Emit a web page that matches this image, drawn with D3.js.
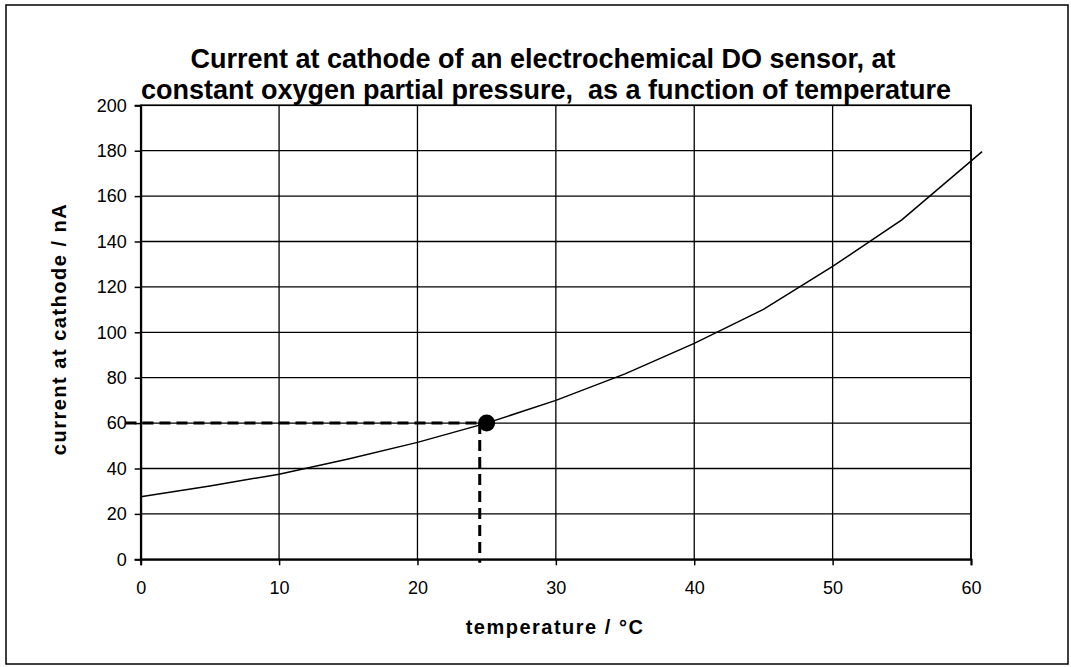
<!DOCTYPE html>
<html>
<head>
<meta charset="utf-8">
<script src="https://cdn.jsdelivr.net/npm/d3@7"></script>
<style>
  body { margin: 0; background: #fff; }
  text { font-family: "Liberation Sans", Arial, sans-serif; fill: #000; }
</style>
</head>
<body>
<div id="chart"></div>
<script>
// Data
const temperature = [0, 5, 10, 15, 20, 25, 30, 35, 40, 45, 50, 55, 60.8];
const current = [27.6, 32.3, 37.5, 44.2, 51.5, 60, 70, 81.7, 95.1, 110.1, 129, 149.5, 179.6];
const xTicks = [0, 10, 20, 30, 40, 50, 60];
const yTicks = [0, 20, 40, 60, 80, 100, 120, 140, 160, 180, 200];
const titleLines = ["Current at cathode of an electrochemical DO sensor, at",
                    "constant oxygen partial pressure,  as a function of temperature"];
// reference point and dashed guides (data units)
const refPoint = [25, 60];
const hGuide = [[-1.1, 60], [25, 60]];
const vGuide = [[24.5, 60], [24.5, -1.5]];

const W = 1071, H = 667;
const plot = { left: 140.7, right: 971, top: 105.3, bottom: 559.3 };
const titleX = [543, 546];

const svg = d3.select("#chart").append("svg")
    .attr("width", W)
    .attr("height", H);

// outer frame
svg.append("rect")
    .attr("x", 6).attr("y", 5)
    .attr("width", 1062).attr("height", 659)
    .attr("fill", "#fff")
    .attr("stroke", "#000")
    .attr("stroke-width", 1.5);

const x = d3.scaleLinear().domain([0, 60]).range([plot.left, plot.right]);
const y = d3.scaleLinear().domain([0, 200]).range([plot.bottom, plot.top]);

// gridlines
svg.append("g")
    .selectAll("line")
    .data(xTicks.slice(1))
    .join("line")
    .attr("x1", d => x(d)).attr("x2", d => x(d))
    .attr("y1", plot.top).attr("y2", plot.bottom)
    .attr("stroke", "#000").attr("stroke-width", 1.3);

svg.append("g")
    .selectAll("line")
    .data(yTicks.slice(1))
    .join("line")
    .attr("x1", plot.left).attr("x2", plot.right)
    .attr("y1", d => y(d)).attr("y2", d => y(d))
    .attr("stroke", "#000").attr("stroke-width", 1.3);

// plot border
svg.append("rect")
    .attr("x", plot.left).attr("y", plot.top)
    .attr("width", plot.right - plot.left)
    .attr("height", plot.bottom - plot.top)
    .attr("fill", "none")
    .attr("stroke", "#000")
    .attr("stroke-width", 1.6);

// axes
const xAxis = svg.append("g")
    .attr("transform", `translate(0,${plot.bottom})`)
    .call(d3.axisBottom(x).tickValues(xTicks).tickSize(6).tickPadding(16));
const yAxis = svg.append("g")
    .attr("transform", `translate(${plot.left},0)`)
    .call(d3.axisLeft(y).tickValues(yTicks).tickSize(6).tickPadding(8));

[xAxis, yAxis].forEach(a => {
  a.select(".domain").attr("stroke", "#000").attr("stroke-width", 2);
  a.selectAll(".tick line").attr("stroke", "#000").attr("stroke-width", 1.5);
  a.selectAll(".tick text")
    .style("font-family", "'Liberation Sans', Arial, sans-serif")
    .style("font-size", "18px")
    .attr("fill", "#000");
});

// curve
const line = d3.line()
    .x((d, i) => x(temperature[i]))
    .y(d => y(d));

svg.append("path")
    .datum(current)
    .attr("d", line)
    .attr("fill", "none")
    .attr("stroke", "#000")
    .attr("stroke-width", 1.5);

// dashed guides
const guide = d3.line().x(d => x(d[0])).y(d => y(d[1]));
[hGuide, vGuide].forEach(g => {
  svg.append("path")
    .attr("d", guide(g))
    .attr("fill", "none")
    .attr("stroke", "#000")
    .attr("stroke-width", 3)
    .attr("stroke-dasharray", "11,6");
});

// reference point
svg.append("circle")
    .attr("cx", x(refPoint[0]))
    .attr("cy", y(refPoint[1]))
    .attr("r", 8.5)
    .attr("fill", "#000");

// title
svg.append("g")
    .selectAll("text")
    .data(titleLines)
    .join("text")
    .attr("x", (d, i) => titleX[i])
    .attr("y", (d, i) => 68 + i * 31)
    .attr("text-anchor", "middle")
    .style("font-size", "27px")
    .style("font-weight", "bold")
    .style("white-space", "pre")
    .text(d => d);

// axis titles
svg.append("text")
    .attr("x", 555)
    .attr("y", 634)
    .attr("text-anchor", "middle")
    .style("font-size", "20px")
    .style("font-weight", "bold")
    .style("letter-spacing", "1.5px")
    .text("temperature / °C");

svg.append("text")
    .attr("transform", "translate(66,329) rotate(-90)")
    .attr("text-anchor", "middle")
    .style("font-size", "20px")
    .style("font-weight", "bold")
    .style("letter-spacing", "1.5px")
    .text("current at cathode / nA");
</script>
</body>
</html>
